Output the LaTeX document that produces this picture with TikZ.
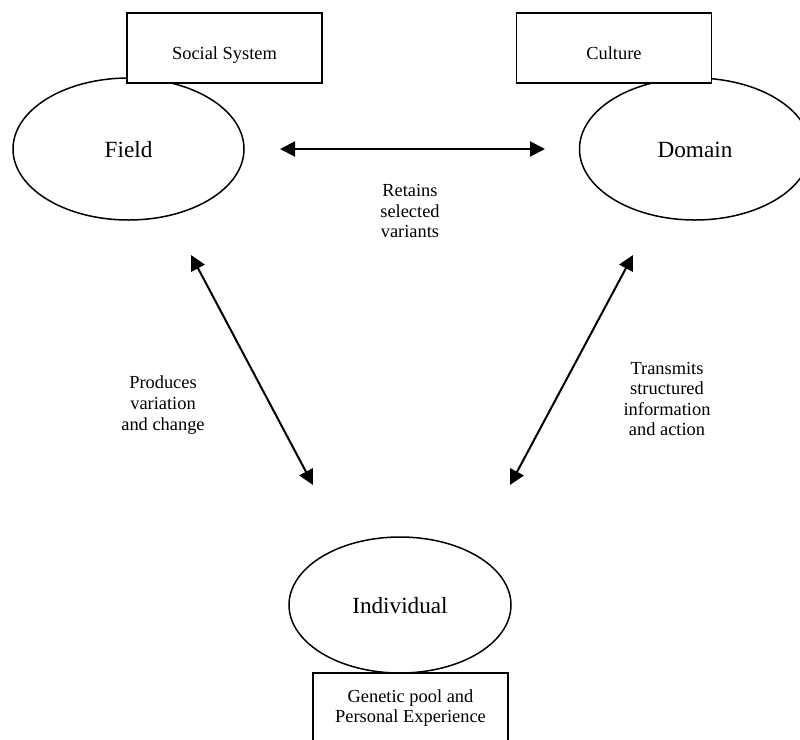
\documentclass[tikz,border=0pt]{standalone}
\usepackage{fontspec}
\setmainfont{Liberation Serif}
\usetikzlibrary{shapes.geometric,arrows.meta}

\tikzstyle{concept} = [ellipse,line width=0.75pt,minimum width=115.5pt,minimum height=71pt,draw=black,text height=9pt,text depth=1pt,font=\fontsize{11.6}{14}\selectfont]
\tikzstyle{context} = [rectangle,line width=0.9pt,minimum width=97.5pt,minimum height=35pt,draw=black,fill=white,align=center,font=\fontsize{9.2}{10.3}\selectfont]
\tikzstyle{lowtext} = [text height=13pt,text depth=2pt]
\tikzstyle{remark} = [align=center,font=\fontsize{9.2}{10.3}\selectfont]

\begin{document}
\begin{tikzpicture}[x=0.5pt,y=-0.5pt,>={Triangle[length=7.5pt,width=7.5pt]}]
	\useasboundingbox (0,0) rectangle (800,740);

	\node (field) [concept] at (128.5,149) {Field};
	\node (domain) [concept] at (695,149) {Domain};
	\node (individual) [concept,minimum width=111pt,minimum height=68pt] at (400,605) {Individual};

	\node (social) [context,lowtext] at (224.5,48) {Social System};
	\node (culture) [context,lowtext] at (614,48) {Culture};
	\node (genetic) [context] at (410.5,708) {Genetic pool and\\Personal Experience};

	\coordinate (fd_a) at (280,149);
	\coordinate (fd_b) at (545,149);
	\coordinate (fi_a) at (191,255);
	\coordinate (fi_b) at (313,485);
	\coordinate (di_a) at (633,255);
	\coordinate (di_b) at (510,485);

	\path[<->]
		(fd_a) edge[line width=1pt] (fd_b)
		(fi_a) edge[line width=1pt] (fi_b)
		(di_a) edge[line width=1pt] (di_b)
		;

	\node (retains) [remark] at (410,211) {Retains\\selected\\variants};
	\node (produces) [remark] at (163,405) {Produces\\variation\\and change};
	\node (transmits) [remark] at (667,399) {Transmits\\structured\\information\\and action};

\end{tikzpicture}
\end{document}
